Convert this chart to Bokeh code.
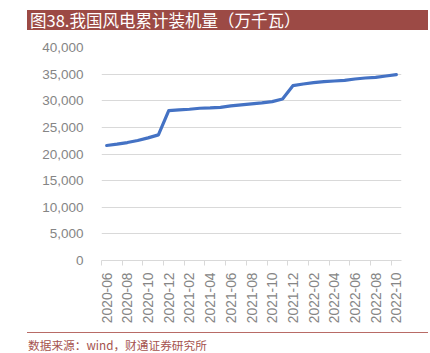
from bokeh.plotting import figure
from bokeh.models import Range1d, FixedTicker, NumeralTickFormatter, Div
from bokeh.layouts import column
from bokeh.embed import file_html
from bokeh.resources import INLINE
import math

months = ["2020-06", "2020-07", "2020-08", "2020-09", "2020-10", "2020-11", "2020-12",
          "2021-01", "2021-02", "2021-03", "2021-04", "2021-05", "2021-06", "2021-07",
          "2021-08", "2021-09", "2021-10", "2021-11", "2021-12", "2022-01", "2022-02",
          "2022-03", "2022-04", "2022-05", "2022-06", "2022-07", "2022-08", "2022-09",
          "2022-10"]
capacity = [21600, 21840, 22150, 22530, 23030, 23590, 28150, 28280, 28400, 28590,
            28650, 28770, 29030, 29220, 29400, 29590, 29840, 30340, 32830, 33150,
            33400, 33580, 33710, 33830, 34090, 34270, 34390, 34650, 34900]
y_ticks = [0, 5000, 10000, 15000, 20000, 25000, 30000, 35000, 40000]
title_text = "图38.我国风电累计装机量（万千瓦）"
source_text = "数据来源：wind，财通证券研究所"

idx = list(range(len(months)))

p = figure(width=430, height=294, output_backend="svg", toolbar_location=None,
           x_range=Range1d(-0.5, len(months) - 0.5), y_range=Range1d(0, 40000),
           min_border_left=101, min_border_right=29, min_border_top=15, min_border_bottom=66)
p.margin = 0
p.outline_line_color = None
p.background_fill_color = "white"
p.border_fill_color = "white"

p.line(idx, capacity, line_color="#4472C4", line_width=3.2, line_join="round", line_cap="round")

# x axis
major = [i for i in idx if i % 2 == 0]
minor = [i - 0.5 for i in idx if i % 2 == 0]
p.xaxis.ticker = FixedTicker(ticks=major, minor_ticks=minor)
p.xaxis.major_label_overrides = {i: months[i] for i in major}
p.xaxis.major_label_orientation = math.pi / 2
p.xaxis.major_tick_line_color = None
p.xaxis.minor_tick_line_color = "#D9D9D9"
p.xaxis.minor_tick_out = 5
p.xaxis.minor_tick_in = 0
p.xaxis.axis_line_color = "#D9D9D9"
p.xaxis.major_label_text_font = "Liberation Sans"
p.xaxis.major_label_text_font_size = "13.8px"
p.xaxis.major_label_text_color = "#858585"
p.xaxis.major_label_standoff = 6
p.xgrid.grid_line_color = None

# y axis
p.yaxis.ticker = FixedTicker(ticks=y_ticks)
p.yaxis.formatter = NumeralTickFormatter(format="0,0")
p.yaxis.axis_line_color = None
p.yaxis.major_tick_line_color = None
p.yaxis.minor_tick_line_color = None
p.yaxis.major_label_text_font = "Liberation Sans"
p.yaxis.major_label_text_font_size = "13.5px"
p.yaxis.major_label_text_color = "#858585"
p.yaxis.major_label_standoff = 12
p.ygrid.grid_line_color = "#D9D9D9"
p.ygrid.grid_line_width = 1

title_div = Div(text=(
    '<div style="margin:10px 0 0 27px;width:401px;height:20px;background:#9C4A45;'
    'color:#FFFFFF;font-family:\'Noto Sans CJK SC\';font-size:16.5px;line-height:20px;'
    'padding-left:3px;box-sizing:border-box;white-space:nowrap;">' + title_text + '</div>'),
    width=430, height=32, margin=0)

footer_div = Div(text=(
    '<div style="margin:6px 0 0 27px;width:401px;height:0;border-top:1px solid #B86B66;"></div>'
    '<div style="margin:5px 0 0 28px;color:#A5524D;font-family:\'Noto Sans CJK SC\';'
    'font-size:11.7px;line-height:14px;white-space:nowrap;">' + source_text + '</div>'),
    width=430, height=27, margin=0)

layout = column(title_div, p, footer_div, spacing=0)
layout.margin = 0

open("out.html", "w").write(file_html(layout, INLINE))
